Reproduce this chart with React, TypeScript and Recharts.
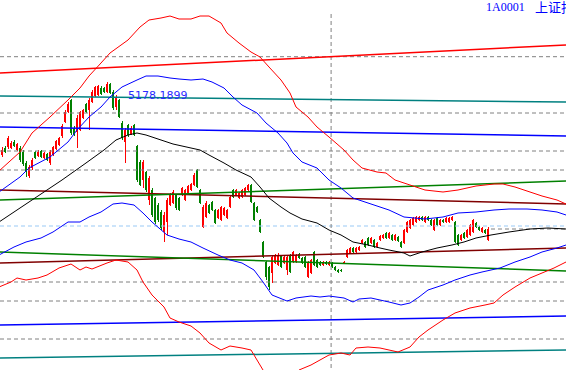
import React from 'react';
import { ComposedChart, Line, Bar, XAxis, YAxis, ReferenceLine, ReferenceDot } from 'recharts';

// Daily candles: [open, high, low, close]
const candles: [number, number, number, number][] = [
  [4450,4530,4430,4500],[4520,4540,4470,4480],[4530,4640,4510,4620],[4520,4590,4510,4570],
  [4580,4600,4530,4540],[4500,4570,4490,4560],[4520,4540,4380,4400],[4480,4500,4340,4360],
  [4370,4390,4230,4280],[4240,4350,4220,4330],[4320,4420,4300,4400],[4480,4490,4410,4420],
  [4440,4500,4430,4480],[4490,4500,4420,4430],[4420,4480,4410,4470],[4460,4470,4390,4400],
  [4370,4500,4350,4480],[4450,4540,4440,4530],[4510,4600,4500,4590],[4550,4630,4540,4620],
  [4640,4760,4620,4740],[4780,4900,4770,4880],[4880,4980,4870,4960],[5000,5010,4650,4670],
  [4720,4740,4640,4650],[4680,4850,4520,4820],[4700,4890,4690,4880],[4820,4910,4810,4900],
  [4960,4970,4870,4880],[4900,5020,4700,5000],[4980,5100,4970,5080],[5040,5140,5030,5130],
  [5050,5150,5040,5140],[5120,5140,5050,5060],[5120,5130,5070,5080],[5080,5178.19,5070,5160],
  [5160,5170,5060,5070],[5080,5100,4900,4920],[4930,5050,4900,5030],[5000,5010,4820,4830],
  [4770,4790,4600,4620],[4580,4720,4370,4700],[4750,4760,4630,4650],[4660,4740,4650,4720],
  [4750,4760,4640,4650],[4540,4550,4180,4200],[4380,4400,4140,4150],[4200,4400,4120,4380],
  [4280,4290,4080,4100],[4000,4240,3950,4220],[4100,4120,3830,3850],[4020,4030,3760,3780],
  [3950,3970,3780,3800],[3880,3900,3700,3720],[3680,3880,3580,3850],[3780,4020,3650,4000],
  [3950,4070,3940,4050],[3970,4100,3960,4080],[4050,4060,3900,3920],[4020,4030,3890,3900],
  [4050,4130,4040,4120],[4000,4110,3990,4100],[4070,4150,4060,4140],[4100,4170,4090,4160],
  [4150,4270,4140,4250],[4300,4310,4120,4130],[4100,4110,3960,3970],[3730,3950,3720,3930],
  [3830,3990,3820,3970],[3950,3960,3860,3870],[3980,3990,3890,3900],[3900,3910,3760,3770],
  [3820,3910,3810,3900],[3800,3940,3790,3930],[3850,3930,3840,3920],[3820,3910,3810,3900],
  [3930,4040,3920,4030],[4100,4110,4020,4030],[4050,4110,4040,4100],[4020,4080,4010,4070],
  [4030,4110,4020,4100],[4050,4130,4040,4120],[4100,4160,4090,4150],[4150,4160,3970,3980],
  [3970,3980,3790,3800],[3930,3940,3870,3880],[3800,3810,3670,3680],[3580,3590,3420,3430],
  [3380,3390,3200,3230],[3330,3340,3100,3130],[3270,3450,3170,3430],[3370,3460,3360,3450],
  [3350,3470,3340,3450],[3440,3450,3320,3330],[3370,3440,3360,3430],[3300,3450,3250,3430],
  [3450,3460,3270,3280],[3380,3490,3370,3480],[3380,3460,3370,3450],[3460,3470,3410,3420],
  [3420,3430,3360,3370],[3430,3440,3320,3330],[3230,3390,3220,3380],[3270,3410,3260,3400],
  [3480,3490,3340,3350],[3400,3410,3320,3330],[3380,3390,3340,3350],[3350,3390,3340,3380],
  [3380,3390,3350,3360],[3350,3390,3340,3380],[3370,3380,3320,3330],[3330,3340,3290,3300],
  [3300,3310,3270,3280],[3300,3310,3285,3290],[3370,3390,3360,3380],[3430,3510,3420,3500],
  [3470,3530,3460,3520],[3520,3530,3470,3480],[3480,3530,3470,3520],[3500,3540,3490,3530],
  [3570,3610,3560,3600],[3580,3590,3520,3530],[3620,3630,3540,3550],[3570,3630,3560,3620],
  [3600,3610,3520,3530],[3530,3580,3520,3570],[3600,3650,3590,3640],[3620,3660,3610,3650],
  [3670,3680,3610,3620],[3620,3680,3610,3670],[3650,3660,3590,3600],[3600,3660,3590,3650],
  [3630,3640,3580,3590],[3580,3590,3520,3530],[3570,3710,3560,3700],[3680,3790,3670,3780],
  [3720,3810,3710,3800],[3750,3830,3740,3820],[3780,3840,3770,3830],[3800,3840,3790,3830],
  [3830,3840,3790,3800],[3780,3840,3770,3830],[3830,3840,3790,3800],[3800,3810,3740,3750],
  [3700,3810,3690,3800],[3820,3830,3740,3750],[3750,3810,3740,3800],[3800,3810,3770,3780],
  [3780,3830,3770,3820],[3780,3830,3770,3820],[3800,3840,3790,3830],[3780,3790,3570,3580],
  [3650,3660,3540,3550],[3600,3660,3590,3650],[3670,3680,3610,3620],[3630,3710,3620,3700],
  [3650,3760,3640,3750],[3680,3810,3670,3800],[3770,3780,3720,3730],[3730,3740,3690,3700],
  [3680,3730,3670,3720],[3700,3710,3660,3670],[3600,3730,3590,3710],
];

// Band curves: [day, value]
const upperRed: [number, number][] = [
  [-1,4290],[6,4480],[10,4670],[16,4830],[22,5000],[26,5120],[29,5240],[33,5370],[36,5470],
  [42,5600],[46,5730],[49,5800],[53,5820],[56,5840],[59,5810],[63,5810],[66,5840],[69,5840],
  [73,5770],[75,5670],[79,5570],[83,5480],[86,5430],[89,5330],[93,5200],[96,5070],[98,4930],
  [102,4830],[105,4730],[109,4630],[114,4500],[117,4400],[120,4320],[125,4280],[128,4270],
  [131,4200],[136,4150],[141,4100],[147,4080],[152,4100],[158,4140],[164,4160],[167,4160],
  [171,4130],[176,4080],[180,4040],[185,4000],[188,3960],
];
const upperBlue: [number, number][] = [
  [-1,4080],[6,4230],[9,4320],[16,4430],[22,4580],[25,4700],[29,4830],[33,4930],[36,5030],
  [40,5130],[45,5200],[48,5240],[52,5240],[56,5220],[59,5210],[63,5200],[67,5210],[70,5180],
  [74,5120],[77,5030],[80,4950],[85,4870],[88,4770],[92,4670],[95,4570],[97,4470],[100,4380],
  [105,4320],[109,4200],[113,4120],[117,4020],[122,3970],[126,3930],[129,3900],[134,3830],
  [141,3810],[147,3830],[152,3870],[158,3880],[164,3900],[169,3910],[175,3910],[180,3900],
  [185,3880],[188,3850],
];
const middleBlack: [number, number][] = [
  [-1,3780],[6,3920],[15,4100],[20,4200],[28,4370],[34,4500],[38,4600],[42,4650],[45,4670],
  [48,4650],[53,4600],[57,4560],[63,4520],[66,4500],[69,4450],[74,4370],[78,4300],[83,4230],
  [86,4130],[89,4020],[93,3930],[96,3870],[100,3810],[105,3770],[109,3700],[113,3650],
  [117,3580],[122,3550],[126,3520],[129,3500],[134,3470],[136,3440],[140,3480],[145,3520],
  [150,3550],[154,3580],[158,3620],[163,3650],[169,3680],[176,3710],[182,3720],[188,3710],
];
const lowerBlue: [number, number][] = [
  [-1,3450],[4,3530],[8,3580],[13,3620],[17,3680],[22,3780],[26,3780],[29,3830],[33,3880],
  [37,3960],[40,3970],[44,3950],[47,3870],[50,3780],[55,3650],[59,3610],[63,3580],[67,3520],
  [72,3450],[76,3400],[80,3370],[84,3300],[87,3180],[90,3050],[95,2990],[98,3020],[103,3040],
  [106,3030],[109,3040],[114,3020],[117,2980],[119,3010],[123,3020],[126,3000],[129,2980],
  [133,2950],[136,2970],[139,3030],[142,3100],[147,3150],[151,3200],[156,3250],[160,3280],
  [166,3320],[171,3380],[176,3430],[180,3480],[185,3520],[188,3550],
];
const lowerRed: [number, number][] = [
  [-1,3130],[3,3180],[5,3220],[8,3200],[12,3220],[15,3250],[19,3320],[23,3360],[26,3300],
  [28,3330],[30,3310],[35,3370],[38,3400],[42,3380],[45,3300],[47,3180],[50,3050],[54,2930],
  [56,2820],[59,2780],[63,2740],[66,2670],[69,2570],[73,2500],[76,2540],[80,2520],[83,2500],
  [85,2400],[87,2300],[90,2150],[96,2150],[99,2300],[103,2350],[106,2400],[109,2450],
  [113,2470],[116,2450],[118,2520],[122,2530],[126,2520],[129,2500],[132,2480],[136,2530],
  [139,2630],[142,2700],[147,2800],[151,2870],[156,2920],[161,2950],[164,2970],[167,3050],
  [171,3130],[176,3220],[180,3270],[184,3320],[188,3380],
];

// Trend channel lines: [startValue, endValue] at day -1 and day 188
const trendLines: { name: string; from: number; to: number; color: string }[] = [
  { name: 'redTop', from: 5270, to: 5550, color: '#ff0000' },
  { name: 'tealTop', from: 5040, to: 4980, color: '#008080' },
  { name: 'blueTop', from: 4730, to: 4640, color: '#0000ff' },
  { name: 'maroonTop', from: 4100, to: 3960, color: '#800000' },
  { name: 'greenTop', from: 4000, to: 4190, color: '#008000' },
  { name: 'maroonLow', from: 3370, to: 3520, color: '#800000' },
  { name: 'greenLow', from: 3480, to: 3290, color: '#008000' },
  { name: 'blueLow', from: 2750, to: 2840, color: '#0000ff' },
  { name: 'tealLow', from: 2420, to: 2500, color: '#008080' },
];

const gridLevels = [5433, 4870, 4490, 4300, 3180, 2990, 2610];
const avgLevel = 3740;
const lastClose = 3710;
const cursorDay = 109.7;
const peakDay = 35;
const peakValue = 5178.19;
const peakLabel = '5178.1899';
const titleCode = '1A0001';
const titleName = '上证指';

const candleData = candles.map(([o, h, l, c], i) => ({ d: i, o, h, l, c }));
const pts = (arr: [number, number][]) => arr.map(([d, v]) => ({ d, v }));

const CandleShape = (props: any) => {
  const { x, y, width, height, payload } = props;
  if (x == null || y == null || !payload) return null;
  const { o, h, l, c } = payload;
  const top = Math.min(y, y + height);
  const H = Math.abs(height);
  const span = h - l || 1;
  const py = (v: number) => top + ((h - v) / span) * H;
  const cx = Math.round(x + width / 2);
  const color = c >= o ? '#ff0000' : '#008000';
  const bTop = py(Math.max(o, c));
  const bBot = py(Math.min(o, c));
  return (
    <g shapeRendering="crispEdges">
      <rect x={cx} y={top} width={1} height={Math.max(H, 1)} fill={color} />
      <rect x={cx - 1} y={bTop} width={2} height={Math.max(bBot - bTop, 1)} fill={color} />
    </g>
  );
};

const PeakText = (props: any) => {
  const vb = props.viewBox || {};
  return (
    <text x={(vb.x ?? 0) + 22} y={(vb.y ?? 0) + 18} fill="#2a2aff" fontSize={11}
      fontFamily="DejaVu Sans, sans-serif">{peakLabel}</text>
  );
};

const curves: { key: string; data: [number, number][]; color: string }[] = [
  { key: 'upperRed', data: upperRed, color: '#ff0000' },
  { key: 'upperBlue', data: upperBlue, color: '#0000ff' },
  { key: 'middleBlack', data: middleBlack, color: '#000000' },
  { key: 'lowerBlue', data: lowerBlue, color: '#0000ff' },
  { key: 'lowerRed', data: lowerRed, color: '#ff0000' },
];

export default function App() {
  return (
    <div style={{ position: 'absolute', left: 0, top: 0, width: 566, height: 370, background: '#fff' }}>
      <ComposedChart width={566} height={370} data={candleData}
        margin={{ top: 0, right: 0, bottom: 0, left: 0 }}>
        <XAxis dataKey="d" type="number" domain={[-0.667, 188]} allowDataOverflow hide />
        <YAxis type="number" domain={[2300, 6000]} allowDataOverflow hide />
        {gridLevels.map((g) => (
          <ReferenceLine key={g} y={g} stroke="#808080" strokeWidth={1} strokeDasharray="4 3" />
        ))}
        <ReferenceLine y={avgLevel} stroke="#99c9f5" strokeWidth={1} strokeDasharray="4 3" />
        <ReferenceLine segment={[{ x: 163, y: lastClose }, { x: 188, y: lastClose }]}
          stroke="#808080" strokeDasharray="4 3" />
        <ReferenceLine segment={[{ x: cursorDay, y: 5860 }, { x: cursorDay, y: 2300 }]}
          stroke="#808080" strokeDasharray="4 3" />
        {trendLines.map((t) => (
          <Line key={t.name} data={[{ d: -1, v: t.from }, { d: 188, v: t.to }]} dataKey="v"
            stroke={t.color} strokeWidth={1.5} dot={false} activeDot={false}
            isAnimationActive={false} type="linear" />
        ))}
        {curves.map((c) => (
          <Line key={c.key} data={pts(c.data)} dataKey="v" stroke={c.color} strokeWidth={1}
            dot={false} activeDot={false} isAnimationActive={false} type="linear" />
        ))}
        <Bar dataKey={(r: any) => [r.l, r.h]} barSize={3} shape={CandleShape} isAnimationActive={false} />
        <ReferenceDot x={peakDay} y={peakValue} r={1} fill="none" stroke="none" label={<PeakText />} />
      </ComposedChart>
      <svg width={566} height={370} style={{ position: 'absolute', left: 0, top: 0, pointerEvents: 'none' }}>
        <text x={486} y={11} fill="#0000ff" fontSize={12} fontFamily="Liberation Serif, serif">{titleCode}</text>
        <text x={535} y={12} fill="#0000ff" fontSize={13} fontFamily="Noto Sans CJK SC">{titleName}</text>
      </svg>
    </div>
  );
}
